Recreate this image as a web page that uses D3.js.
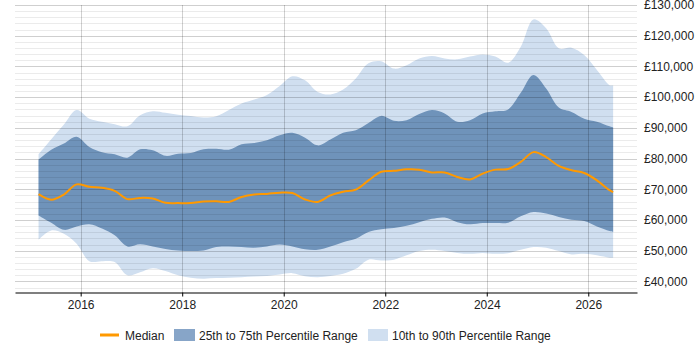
<!DOCTYPE html>
<html>
<head>
<meta charset="utf-8">
<script src="https://cdn.jsdelivr.net/npm/d3@7"></script>
<style>
  body { margin: 0; background: #fff; }
  svg text { font-family: "Liberation Sans", Arial, sans-serif; }
</style>
</head>
<body>
<svg id="chart" width="700" height="350"></svg>
<script>
// quarterly sample dates (fractional years)
var dates = [2015.17, 2015.42, 2015.67, 2015.92, 2016.17, 2016.42, 2016.67, 2016.92,
  2017.17, 2017.42, 2017.67, 2017.92, 2018.17, 2018.42, 2018.67, 2018.92,
  2019.17, 2019.42, 2019.67, 2019.92, 2020.17, 2020.42, 2020.67, 2020.92,
  2021.17, 2021.42, 2021.67, 2021.92, 2022.17, 2022.42, 2022.67, 2022.92,
  2023.17, 2023.42, 2023.67, 2023.92, 2024.17, 2024.42, 2024.67, 2024.92,
  2025.17, 2025.42, 2025.67, 2025.92, 2026.17, 2026.42, 2026.49];

var p90 = [81400, 86300, 91100, 95800, 93000, 92000, 91200, 90500, 94100, 95400, 94900, 94300,
  93900, 93400, 93800, 95800, 97900, 99200, 100700, 103600, 106800, 105500, 101700, 100900, 102500,
  106100, 111000, 111700, 109300, 110400, 112600, 113400, 112600, 112300, 113200, 113900, 113200,
  111200, 116400, 125300, 122400, 115900, 116100, 113700, 108800, 103900, 103900];

var p75 = [79700, 82900, 84900, 87100, 83800, 82100, 81400, 80300, 83000, 82700, 80900, 81600,
  81800, 83000, 83200, 82900, 84700, 85100, 86000, 87600, 88400, 86800, 84300, 86200, 88400,
  89200, 91600, 93900, 92300, 92500, 94500, 95800, 94700, 92000, 92500, 94700, 95400,
  96000, 101400, 107200, 102800, 96600, 95200, 93000, 92000, 90500, 90100];

var median = [68400, 66600, 68300, 71600, 70800, 70500, 69500, 66800, 67200, 67000, 65600, 65500,
  65500, 66000, 66100, 65900, 67500, 68300, 68500, 68900, 68800, 66700, 65900, 68000, 69200,
  69900, 72900, 75700, 76000, 76500, 76400, 75500, 75500, 74000, 73200, 75100, 76400,
  76600, 78900, 82100, 80500, 77600, 76200, 75300, 72900, 69700, 69100];

var p25 = [61500, 59100, 56800, 57900, 58600, 57200, 55000, 51400, 52100, 51400, 50600, 50100,
  49900, 50100, 51200, 51400, 51200, 51000, 51400, 52000, 51400, 50500, 50300, 51400, 52800,
  53900, 56100, 57000, 57400, 58100, 59300, 60400, 60800, 59300, 58600, 59000, 59000,
  59100, 61200, 62600, 62100, 61000, 60100, 59700, 57900, 56400, 56100];

var p10 = [53600, 56600, 55500, 52300, 46600, 46600, 46300, 42000, 43000, 44300, 43400, 42000,
  41200, 40900, 41100, 41200, 41400, 41600, 41800, 42300, 42700, 41700, 41400, 41800, 42500,
  44100, 47100, 46800, 47100, 48500, 49900, 50300, 49900, 49300, 49000, 49300, 49000,
  49200, 50300, 51200, 51000, 49900, 48800, 49000, 48500, 47700, 47700];

var yearTicks = [2016, 2018, 2020, 2022, 2024, 2026];
var salaryTicks = [40000, 50000, 60000, 70000, 80000, 90000, 100000, 110000, 120000, 130000];
var legendLabels = ["Median", "25th to 75th Percentile Range", "10th to 90th Percentile Range"];

var svg = d3.select("#chart");
var plotLeft = 15, plotRight = 637, plotTop = 5, plotBottom = 292.5;

var x = d3.scaleLinear().domain([2014.706, 2026.96]).range([plotLeft, plotRight]);
var y = d3.scaleLinear().domain([36400, 130000]).range([plotBottom, plotTop]);

var rows = dates.map(function(d, i) {
  return {t: d, p10: p10[i], p25: p25[i], p50: median[i], p75: p75[i], p90: p90[i]};
});

var smooth = d3.curveCatmullRom.alpha(0.5);

var outer = d3.area()
  .x(function(d) { return x(d.t); })
  .y0(function(d) { return y(d.p10); })
  .y1(function(d) { return y(d.p90); })
  .curve(smooth);

var inner = d3.area()
  .x(function(d) { return x(d.t); })
  .y0(function(d) { return y(d.p25); })
  .y1(function(d) { return y(d.p75); })
  .curve(smooth);

var line = d3.line()
  .x(function(d) { return x(d.t); })
  .y(function(d) { return y(d.p50); })
  .curve(smooth);

// bands
svg.append("path").datum(rows).attr("d", outer).attr("fill", "#d0dff0");
svg.append("path").datum(rows).attr("d", inner).attr("fill", "#6f93ba");

// grid over the bands
var minor = d3.range(38000, 130001, 2000);
svg.append("g").selectAll("line").data(minor).enter().append("line")
  .attr("x1", plotLeft).attr("x2", plotRight)
  .attr("y1", function(d) { return Math.round(y(d)) + 0.5; })
  .attr("y2", function(d) { return Math.round(y(d)) + 0.5; })
  .attr("stroke", "#000")
  .attr("stroke-opacity", function(d) { return d % 10000 === 0 ? 0.19 : 0.08; });

svg.append("g").selectAll("line").data(yearTicks).enter().append("line")
  .attr("x1", function(d) { return Math.round(x(d)) + 0.5; })
  .attr("x2", function(d) { return Math.round(x(d)) + 0.5; })
  .attr("y1", plotTop).attr("y2", plotBottom)
  .attr("stroke", "#000").attr("stroke-opacity", 0.18);

// median line
svg.append("path").datum(rows).attr("d", line)
  .attr("fill", "none").attr("stroke", "#ff9900").attr("stroke-width", 2);

// x axis
var xAxis = svg.append("g")
  .attr("transform", "translate(0," + plotBottom + ")")
  .call(d3.axisBottom(x).tickValues(yearTicks).tickFormat(d3.format("d")).tickSize(4).tickSizeOuter(0).tickPadding(4));
xAxis.select(".domain").attr("stroke", "#000").attr("stroke-width", 1.2);
xAxis.selectAll(".tick line").attr("stroke", "#000");
xAxis.selectAll("text").attr("font-size", "12px").attr("fill", "#222")
  .attr("font-family", "Liberation Sans, Arial, sans-serif");

// y labels on the right
var yAxis = svg.append("g")
  .attr("transform", "translate(" + plotRight + ",0)")
  .call(d3.axisRight(y).tickValues(salaryTicks)
    .tickFormat(function(d) { return "£" + d3.format(",")(d); })
    .tickSize(0).tickPadding(7));
yAxis.select(".domain").remove();
yAxis.selectAll("text").attr("font-size", "12px").attr("fill", "#222")
  .attr("font-family", "Liberation Sans, Arial, sans-serif");

// legend
var lg = svg.append("g").attr("transform", "translate(0,335)");
lg.append("line").attr("x1", 100).attr("x2", 119).attr("y1", 0).attr("y2", 0)
  .attr("stroke", "#ff9900").attr("stroke-width", 3);
lg.append("text").attr("x", 125).attr("y", 4.5).attr("font-size", "12px").attr("fill", "#222").text(legendLabels[0]);
lg.append("rect").attr("x", 174).attr("y", -6).attr("width", 21).attr("height", 12).attr("fill", "#87a5c8");
lg.append("text").attr("x", 199).attr("y", 4.5).attr("font-size", "12px").attr("fill", "#222").text(legendLabels[1]);
lg.append("rect").attr("x", 368).attr("y", -6).attr("width", 20).attr("height", 12).attr("fill", "#d0dff0");
lg.append("text").attr("x", 392).attr("y", 4.5).attr("font-size", "12px").attr("fill", "#222").text(legendLabels[2]);
</script>
</body>
</html>
